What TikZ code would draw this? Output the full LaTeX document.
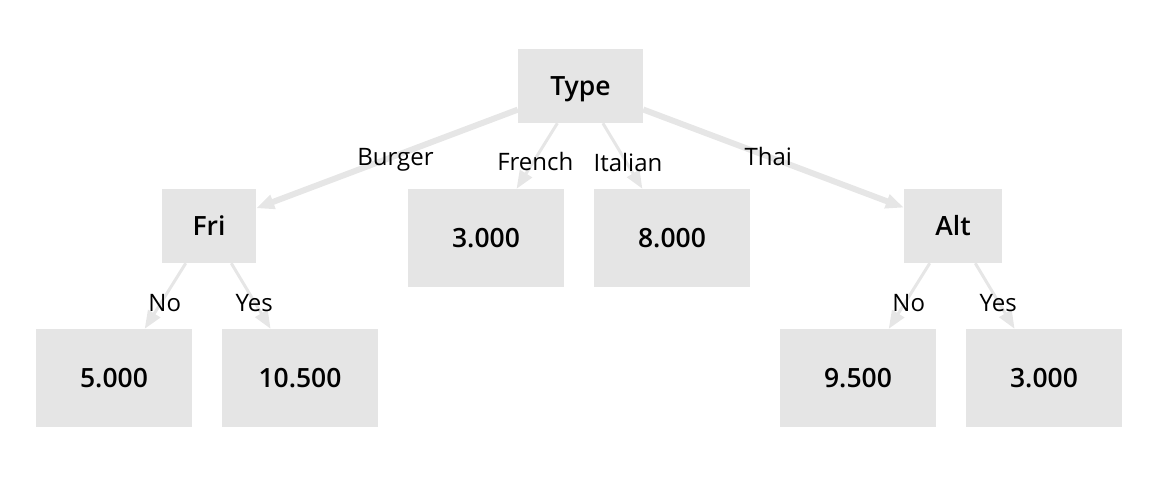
\documentclass[tikz,border=0pt]{standalone}
\usepackage{fontspec}
\setmainfont{Open Sans}
\newfontface\semib{Open Sans Semibold}
\usetikzlibrary{arrows.meta}
\definecolor{boxgray}{HTML}{E5E5E5}
\definecolor{edgegray}{HTML}{E6E6E6}
\tikzset{
  box/.style={fill=boxgray, inner sep=0pt, text height=19pt, text depth=0pt,
    font=\semib\fontsize{26.5}{30}\selectfont, text=black},
  inner/.style={box, minimum height=74pt},
  leaf/.style={box, minimum width=156pt, minimum height=98pt},
  elabel/.style={inner sep=0pt, text height=17pt, text depth=0pt,
    font=\fontsize{24}{28}\selectfont, text=black},
  conn/.style={draw=edgegray, line width=3pt,
    -{Triangle[length=18pt,width=14pt]}, color=edgegray},
  thick conn/.style={conn, line width=6pt},
}
\begin{document}
\begin{tikzpicture}[x=1pt,y=-1pt]
\useasboundingbox (0,0) rectangle (1160,480);
% internal nodes
\node[inner, minimum width=125pt] (type) at (580.5,86) {Type};
\node[inner, minimum width=94pt] (fri) at (209,226) {Fri};
\node[inner, minimum width=98pt] (alt) at (953,226) {Alt};
% leaves
\node[leaf] (french) at (486,238) {3.000};
\node[leaf] (italian) at (672,238) {8.000};
\node[leaf] (frino) at (114,378) {5.000};
\node[leaf] (friyes) at (300,378) {10.500};
\node[leaf] (altno) at (858,378) {9.500};
\node[leaf] (altyes) at (1044,378) {3.000};
% connectors
\draw[thick conn] (type) -- (fri);
\draw[conn] (type) -- (french);
\draw[conn] (type) -- (italian);
\draw[thick conn] (type) -- (alt);
\draw[conn] (fri) -- (frino);
\draw[conn] (fri) -- (friyes);
\draw[conn] (alt) -- (altno);
\draw[conn] (alt) -- (altyes);
% edge labels
\node[elabel] (lburger) at (395.4,156.7) {Burger};
\node[elabel] (lfrench) at (535.3,162) {French};
\node[elabel] (litalian) at (628,162.5) {Italian};
\node[elabel] (lthai) at (768.3,156.7) {Thai};
\node[elabel] (lfrino) at (164.7,302.7) {No};
\node[elabel] (lfriyes) at (254.2,302.7) {Yes};
\node[elabel] (laltno) at (908.7,302.7) {No};
\node[elabel] (laltyes) at (998.3,302.7) {Yes};
\end{tikzpicture}
\end{document}
